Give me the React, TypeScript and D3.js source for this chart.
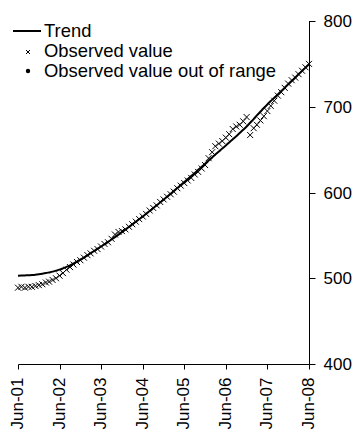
import React from "react";
import * as d3 from "d3";

// Monthly series, June 2001 through June 2008
const startMonth = new Date(2001, 5, 1);
const endMonth = new Date(2008, 5, 1);

const observed = [
  489, 490, 489, 490, 490, 491, 492, 493, 495, 496, 498, 500,
  503, 506, 510, 513, 516, 519, 521, 524, 527, 529, 532, 534,
  537, 540, 542, 546, 551, 554, 555, 557, 560, 563, 566, 569,
  572, 575, 579, 582, 585, 589, 592, 595, 598, 601, 605, 608,
  611, 614, 617, 621, 624, 628, 632, 640, 647, 654, 657, 660,
  664, 668, 674, 677, 679, 683, 688, 667, 675, 679, 684, 689,
  695, 701, 707, 713, 717, 722, 727, 731, 734, 738, 742, 746,
  750,
];

const trend = [
  503.0, 503.1, 503.3, 503.5, 503.8, 504.2, 504.7, 505.3, 506.0, 506.8, 507.7, 508.8,
  510.0, 511.5, 513.2, 515.1, 517.2, 519.4, 521.7, 524.1, 526.6, 529.2, 531.8, 534.4,
  537.0, 539.7, 542.4, 545.2, 548.0, 550.9, 553.8, 556.7, 559.7, 562.7, 565.8, 568.9,
  572.0, 575.2, 578.4, 581.7, 585.0, 588.3, 591.6, 595.0, 598.4, 601.8, 605.2, 608.7,
  612.2, 615.7, 619.2, 622.8, 626.4, 630.0, 633.6, 637.2, 640.8, 644.3, 647.8, 651.3,
  654.8, 658.4, 662.0, 665.7, 669.4, 673.2, 677.0, 681.3, 685.6, 689.9, 694.2, 698.5,
  702.7, 706.6, 710.5, 714.4, 718.3, 722.2, 726.1, 730.0, 733.9, 737.8, 741.7, 745.6,
  749.5,
];

// Observations falling outside the axis range (none in this period)
const outOfRange: { month: number; value: number }[] = [];

const yTicks = [400, 500, 600, 700, 800];
const xTickYears = [2001, 2002, 2003, 2004, 2005, 2006, 2007, 2008];
const legendItems = ["Trend", "Observed value", "Observed value out of range"];

const W = 356;
const H = 431;
const FONT = "Arial, 'Liberation Sans', Helvetica, sans-serif";

export default function App() {
  const x = d3.scaleTime().domain([startMonth, endMonth]).range([18, 309]);
  const y = d3.scaleLinear().domain([400, 800]).range([364, 21]);

  const monthDate = (i: number) => d3.timeMonth.offset(startMonth, i);
  const xTicks = xTickYears.map((yr) => new Date(yr, 5, 1));
  const fmt = d3.timeFormat("%b-%y");

  const trendPath = d3
    .line<number>()
    .x((_, i) => x(monthDate(i)))
    .y((v) => y(v))
    .curve(d3.curveMonotoneX)(trend)!;

  const ms = 3; // half-size of the cross marker
  const cross = (cx: number, cy: number) =>
    `M${cx - ms},${cy - ms}L${cx + ms},${cy + ms}M${cx - ms},${cy + ms}L${cx + ms},${cy - ms}`;

  const axisX = Math.round(x(endMonth)) + 0.5;
  const axisY = Math.round(y(400)) + 0.5;

  return (
    <svg
      width={W}
      height={H}
      style={{ position: "absolute", left: 0, top: 0, background: "#fff" }}
      fontFamily={FONT}
    >
      {/* trend line */}
      <path d={trendPath} fill="none" stroke="#000" strokeWidth={2} />

      {/* observed values */}
      <path
        d={observed.map((v, i) => cross(x(monthDate(i)), y(v))).join("")}
        fill="none"
        stroke="#000"
        strokeWidth={1}
      />
      {outOfRange.map((p, i) => (
        <circle key={i} cx={x(monthDate(p.month))} cy={y(p.value)} r={2.5} fill="#000" />
      ))}

      {/* x axis */}
      <line x1={Math.round(x(startMonth)) + 0.5} x2={axisX} y1={axisY} y2={axisY} stroke="#000" strokeWidth={1} />
      {xTicks.map((d, i) => {
        const tx = Math.round(x(d)) + 0.5;
        return (
          <g key={i}>
            <line x1={tx} x2={tx} y1={axisY} y2={axisY + 5} stroke="#000" strokeWidth={1} />
            <text
              transform={`translate(${tx - 1},${axisY + 13}) rotate(-90)`}
              textAnchor="end"
              dy="0.35em"
              fontSize={17}
              fill="#000"
            >
              {fmt(d)}
            </text>
          </g>
        );
      })}

      {/* y axis on the right */}
      <line x1={axisX} x2={axisX} y1={y(800)} y2={axisY} stroke="#000" strokeWidth={1} />
      {yTicks.map((t) => {
        const ty = Math.round(y(t)) + 0.5;
        return (
          <g key={t}>
            <line x1={axisX} x2={axisX + 6} y1={ty} y2={ty} stroke="#000" strokeWidth={1} />
            <text x={323.5} y={ty} dy="0.35em" fontSize={17} fill="#000">
              {t}
            </text>
          </g>
        );
      })}

      {/* legend */}
      <g fontSize={18.4} fill="#000">
        <line x1={13} x2={41} y1={31} y2={31} stroke="#000" strokeWidth={2} />
        <text x={44} y={37}>{legendItems[0]}</text>
        <path d={`M26,50L30,54M26,54L30,50`} stroke="#000" strokeWidth={1} fill="none" />
        <text x={44} y={57}>{legendItems[1]}</text>
        <circle cx={28} cy={71} r={2.2} fill="#000" />
        <text x={44} y={77}>{legendItems[2]}</text>
      </g>
    </svg>
  );
}
